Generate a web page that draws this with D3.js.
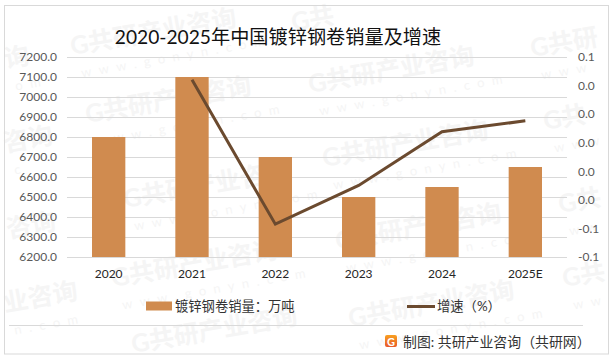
<!DOCTYPE html>
<html>
<head>
<meta charset="utf-8">
<script src="https://cdn.jsdelivr.net/npm/d3@7"></script>
<style>
html, body { margin: 0; padding: 0; background: #fff; }
svg { display: block; }
text { font-family: "Lato", "Noto Sans CJK SC", sans-serif; }
</style>
</head>
<body>
<div id="chart"></div>
<script>
const years = ["2020", "2021", "2022", "2023", "2024", "2025E"];
const sales = [6800, 7100, 6700, 6500, 6550, 6650];
const growth = [null, 0.0441, -0.057, -0.0299, 0.0077, 0.0153];
const leftTicks = [6200, 6300, 6400, 6500, 6600, 6700, 6800, 6900, 7000, 7100, 7200];
const rightTicks = [-0.08, -0.06, -0.04, -0.02, 0, 0.02, 0.04, 0.06];

const title = "2020-2025年中国镀锌钢卷销量及增速";
const salesName = "镀锌钢卷销量：万吨";
const growthName = "增速（%）";
const source = "制图: 共研产业咨询（共研网）";

const width = 614, height = 359;
const plot = { left: 67, right: 567, top: 57, bottom: 257 };

const svg = d3.select("#chart").append("svg")
    .attr("width", width)
    .attr("height", height);

// watermark, sits under everything. the ones at the page edge only show the part that fits
const wmName = "G共研产业咨询", wmSite = "www.gonyn.com";
const marks = [
    [6, 68, "询", "om"], [5, 152, "咨询", "c"], [8, 238, "咨询", "."], [5, 312, "业咨询", "n.com"],
    [72, 55, wmName, wmSite], [87, 123, wmName, wmSite], [125, 208, wmName, wmSite], [113, 287, wmName, wmSite],
    [133, 353, wmName, ""], [293, 31, "G共", ""], [310, 93, wmName, wmSite], [324, 167, wmName, wmSite],
    [337, 250, wmName, wmSite], [350, 327, wmName, wmSite], [532, 57, "G共研", "www"], [545, 130, "G共", "www"],
    [560, 213, "G共", "ww"], [564, 287, "G共", "ww"]
];
const wm = svg.append("g");
marks.forEach(function(m) {
    let g = wm.append("g").attr("transform", "translate(" + m[0] + "," + m[1] + ") rotate(-10)");
    g.append("text")
        .attr("font-size", 25)
        .attr("font-weight", 700)
        .attr("fill", "#f5f5f5")
        .text(m[2]);
    g.append("text")
        .attr("x", 6)
        .attr("y", 24)
        .attr("font-size", 13)
        .attr("letter-spacing", 7.5)
        .attr("fill", "#f5f5f5")
        .text(m[3]);
});

// outer frame
svg.append("rect")
    .attr("x", 4.5).attr("y", 5.5)
    .attr("width", 604).attr("height", 348.5)
    .attr("fill", "none")
    .attr("stroke", "#d9d9d9");

let x = d3.scaleBand()
    .domain(years)
    .range([plot.left, plot.right])
    .paddingInner(0.6)
    .paddingOuter(0.3);

let yLeft = d3.scaleLinear()
    .domain([6200, 7200])
    .range([plot.bottom, plot.top]);

let yRight = d3.scaleLinear()
    .domain([-0.08, 0.06])
    .range([plot.bottom, plot.top]);

// left axis with gridlines
let leftAxis = svg.append("g")
    .attr("transform", "translate(" + plot.left + ",0)")
    .call(d3.axisLeft(yLeft)
        .tickValues(leftTicks)
        .tickSize(-(plot.right - plot.left))
        .tickPadding(10)
        .tickFormat(d3.format(".1f")));
leftAxis.select(".domain").remove();
leftAxis.selectAll("line").attr("stroke", "#d9d9d9");
leftAxis.selectAll("text").attr("fill", "#595959").attr("font-size", 12);

svg.append("g")
    .selectAll("rect")
    .data(sales)
    .join("rect")
    .attr("x", (d, i) => x(years[i]))
    .attr("y", d => yLeft(d))
    .attr("width", x.bandwidth())
    .attr("height", d => yLeft(6200) - yLeft(d))
    .attr("fill", "#d08b4f");

// right axis
let rightAxis = svg.append("g")
    .attr("transform", "translate(" + plot.right + ",0)")
    .call(d3.axisRight(yRight)
        .tickValues(rightTicks)
        .tickSize(0)
        .tickPadding(11)
        .tickFormat(d => d3.format(".1f")(d).replace("−", "-")));
rightAxis.select(".domain").remove();
rightAxis.selectAll("text").attr("fill", "#595959").attr("font-size", 12);

// x axis
let xAxis = svg.append("g")
    .attr("transform", "translate(0," + plot.bottom + ")")
    .call(d3.axisBottom(x).tickSize(0).tickPadding(12));
xAxis.select(".domain").remove();
xAxis.selectAll("text").attr("fill", "#262626").attr("font-size", 12);

// growth line
svg.append("path")
    .datum(growth.map((d, i) => ({ year: years[i], value: d })).filter(d => d.value !== null))
    .attr("fill", "none")
    .attr("stroke", "#6b4a2f")
    .attr("stroke-width", 3)
    .attr("d", d3.line()
        .x(d => x(d.year) + x.bandwidth() / 2)
        .y(d => yRight(d.value)));

// title
svg.append("text")
    .attr("x", 278)
    .attr("y", 44)
    .attr("text-anchor", "middle")
    .attr("font-size", 19.2)
    .attr("fill", "#111")
    .text(title);

// legend
svg.append("rect")
    .attr("x", 146).attr("y", 301.5)
    .attr("width", 26).attr("height", 9)
    .attr("fill", "#d08b4f");
svg.append("text")
    .attr("x", 175).attr("y", 311)
    .attr("font-size", 13.3)
    .attr("fill", "#333")
    .text(salesName);
svg.append("line")
    .attr("x1", 407).attr("x2", 435)
    .attr("y1", 306.5).attr("y2", 306.5)
    .attr("stroke", "#6b4a2f")
    .attr("stroke-width", 3);
svg.append("text")
    .attr("x", 437).attr("y", 311)
    .attr("font-size", 13.3)
    .attr("fill", "#333")
    .text(growthName);

// footer
svg.append("line")
    .attr("x1", 9).attr("x2", 583)
    .attr("y1", 325.5).attr("y2", 325.5)
    .attr("stroke", "#d9d9d9");
let logoFill = svg.append("defs").append("linearGradient")
    .attr("id", "logoFill")
    .attr("x1", 0).attr("x2", 0).attr("y1", 0).attr("y2", 1);
logoFill.append("stop").attr("offset", 0).attr("stop-color", "#f8a020");
logoFill.append("stop").attr("offset", 1).attr("stop-color", "#e8582a");
svg.append("rect")
    .attr("x", 385).attr("y", 335)
    .attr("width", 12).attr("height", 12)
    .attr("rx", 2)
    .attr("fill", "url(#logoFill)");
svg.append("text")
    .attr("x", 391).attr("y", 345.5)
    .attr("text-anchor", "middle")
    .attr("font-size", 11)
    .attr("font-weight", 700)
    .attr("fill", "#fff")
    .text("G");
svg.append("text")
    .attr("x", 403).attr("y", 347)
    .attr("font-size", 13.9)
    .attr("fill", "#333")
    .text(source);
</script>
</body>
</html>
